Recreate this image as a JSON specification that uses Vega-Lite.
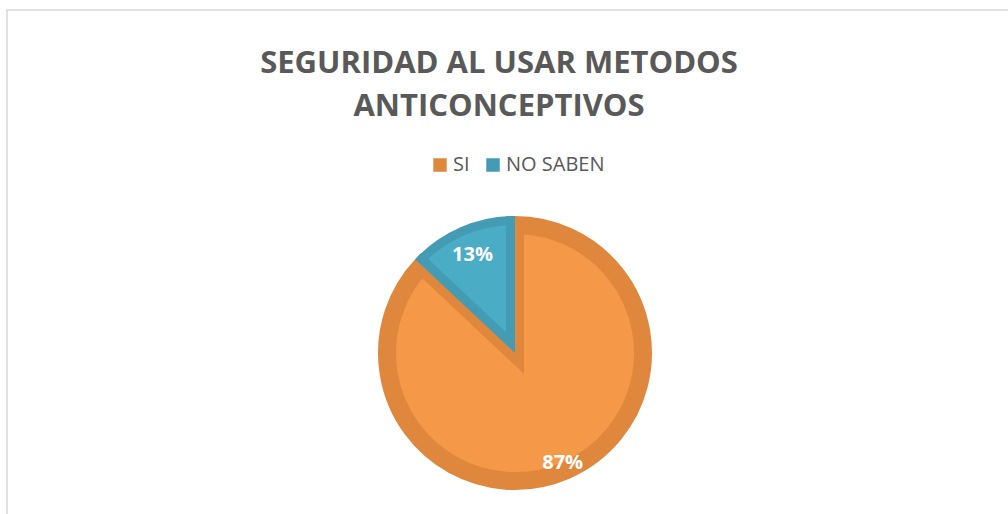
{
  "$schema": "https://vega.github.io/schema/vega-lite/v6.json",
  "width": 1016,
  "height": 686,
  "autosize": {"type": "none"},
  "padding": {"left": 7, "top": 10, "right": 0, "bottom": 0},
  "background": "white",
  "config": {
    "view": {"stroke": null},
    "font": "Open Sans"
  },
  "title": {
    "text": ["SEGURIDAD AL USAR METODOS", "ANTICONCEPTIVOS"],
    "orient": "top",
    "anchor": "middle",
    "frame": "group",
    "offset": 0,
    "baseline": "alphabetic",
    "dy": 138,
    "dx": -16,
    "lineHeight": 43,
    "font": "Open Sans",
    "fontSize": 31,
    "fontWeight": "bold",
    "color": "#595959"
  },
  "data": {
    "values": [
      {"categoria": "SI", "proporcion": 0.87},
      {"categoria": "NO SABEN", "proporcion": 0.13}
    ]
  },
  "layer": [
    {
      "data": {"values": [{"marco": "borde"}]},
      "mark": {"type": "rect", "fill": "white", "stroke": "#D9D9D9", "strokeWidth": 1.5},
      "encoding": {}
    },
    {
      "mark": {"type": "arc", "radius": 128, "fill": "#F59848", "stroke": "#E0873E", "strokeWidth": 18, "strokeJoin": "miter", "strokeMiterLimit": 10},
      "encoding": {
        "theta": {"field": "proporcion", "type": "quantitative", "stack": true},
        "order": {"field": "categoria", "sort": "descending"},
        "opacity": {"condition": {"test": "datum.categoria === 'SI'", "value": 1}, "value": 0}
      }
    },
    {
      "mark": {"type": "arc", "radius": 137, "strokeWidth": 0},
      "encoding": {
        "theta": {"field": "proporcion", "type": "quantitative", "stack": true},
        "order": {"field": "categoria", "sort": "descending"},
        "color": {
          "field": "categoria",
          "type": "nominal",
          "scale": {"domain": ["SI", "NO SABEN"], "range": ["#E0873E", "#449BB4"]},
          "legend": {
            "title": null,
            "orient": "none",
            "direction": "horizontal",
            "legendX": 423,
            "legendY": 145,
            "symbolType": "square",
            "symbolSize": 182,
            "symbolStrokeWidth": 0,
            "symbolOpacity": 1,
            "labelFont": "Open Sans",
            "labelFontSize": 20,
            "labelColor": "#595959",
            "labelOffset": 3,
            "columnPadding": 13,
            "padding": 0
          }
        },
        "opacity": {"condition": {"test": "datum.categoria === 'NO SABEN'", "value": 1}, "value": 0}
      }
    },
    {
      "mark": {"type": "arc", "radius": 128, "radius2": 22.5, "padAngle": 0.1386, "fill": "#4BACC6"},
      "encoding": {
        "theta": {"field": "proporcion", "type": "quantitative", "stack": true},
        "order": {"field": "categoria", "sort": "descending"},
        "opacity": {"condition": {"test": "datum.categoria === 'NO SABEN'", "value": 1}, "value": 0}
      }
    },
    {
      "mark": {"type": "text", "radius": 120, "font": "Open Sans", "fontWeight": "bold", "fontSize": 20, "fill": "white"},
      "encoding": {
        "theta": {"field": "proporcion", "type": "quantitative", "stack": true},
        "order": {"field": "categoria", "sort": "descending"},
        "text": {"field": "proporcion", "type": "quantitative", "format": ".0%"},
        "opacity": {"condition": {"test": "datum.categoria === 'SI'", "value": 1}, "value": 0}
      }
    },
    {
      "mark": {"type": "text", "radius": 107, "font": "Open Sans", "fontWeight": "bold", "fontSize": 20, "fill": "white"},
      "encoding": {
        "theta": {"field": "proporcion", "type": "quantitative", "stack": true},
        "order": {"field": "categoria", "sort": "descending"},
        "text": {"field": "proporcion", "type": "quantitative", "format": ".0%"},
        "opacity": {"condition": {"test": "datum.categoria === 'NO SABEN'", "value": 1}, "value": 0}
      }
    }
  ]
}
